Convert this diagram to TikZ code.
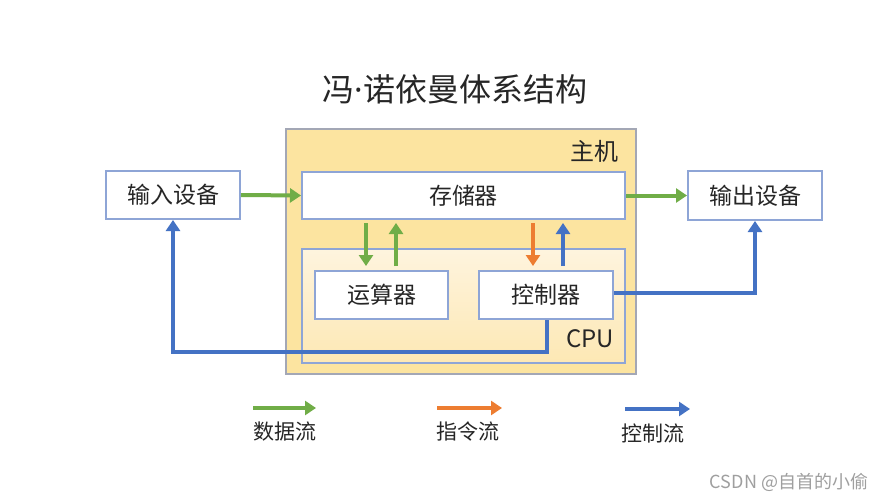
\documentclass[tikz,border=0pt]{standalone}
\usepackage{fontspec}
\setmainfont{Noto Sans CJK SC}
\newfontfamily\latinsans{Noto Sans}
\usepackage{xcolor}
\usetikzlibrary{positioning,arrows.meta,calc}

\definecolor{datagreen}{HTML}{70AD47}
\definecolor{instrorange}{HTML}{ED7D31}
\definecolor{ctrlblue}{HTML}{4472C4}
\definecolor{hostfill}{HTML}{FCE4A0}
\definecolor{cputop}{HTML}{FEF4DE}
\definecolor{cpubottom}{HTML}{FDE8B4}
\definecolor{unitline}{HTML}{8EA5D6}
\definecolor{frameline}{HTML}{A3A7B5}
\definecolor{inktext}{HTML}{262626}

\begin{document}
\begin{tikzpicture}[
    x=0.5pt, y=-0.5pt,
    unit/.style={rectangle, draw=unitline, line width=1pt, fill=white, minimum width=67pt, minimum height=24pt, font=\fontsize{11.5}{13}\selectfont, text=inktext, inner sep=0pt},
    frame/.style={rectangle, draw=frameline, line width=1pt, inner sep=0pt},
    lbl/.style={font=\fontsize{12}{14}\selectfont, text=inktext, inner sep=0pt},
    key/.style={font=\fontsize{10.5}{12}\selectfont, text=inktext, inner sep=0pt},
    data/.style={->, line width=2pt, >={Triangle[length=5.5pt,width=7pt]}, color=datagreen},
    instr/.style={->, line width=2pt, >={Triangle[length=5.5pt,width=7pt]}, color=instrorange},
    ctrl/.style={->, line width=2pt, >={Triangle[length=5.5pt,width=7pt]}, color=ctrlblue}
]
    \useasboundingbox[fill=white] (0,0) rectangle (891,503);

    % Title
    \node[font=\fontsize{16}{19}\selectfont, text=inktext] (title) at (455,89) {冯{\latinsans ·}诺依曼体系结构};

    % Host and CPU frames
    \node[frame, fill=hostfill, minimum width=175pt, minimum height=122.5pt] (host) at (461,251.5) {};
    \node[lbl] (hostlbl) at (594,151) {主机};
    \node[frame, draw=unitline, top color=cputop, bottom color=cpubottom, minimum width=161.5pt, minimum height=57pt] (cpu) at (463.5,306) {};
    \node[lbl] (cpulbl) at (590,339) {CPU};

    % Units
    \node[unit, minimum width=161.5pt, minimum height=23.5pt] (mem) at (463.5,195.5) {存储器};
    \node[unit, minimum width=66.5pt] (alu)  at (381.5,295) {运算器};
    \node[unit]                       (ctrlunit) at (546,295) {控制器};
    \node[unit]                       (input)  at (173,195) {输入设备};
    \node[unit, minimum height=24.5pt] (output) at (755,195.5) {输出设备};

    % Data flow
    \draw[data] (input.east) -- (mem.west);
    \draw[data] (mem.east) -- (output.west);
    \coordinate (aludn) at ([xshift=-7.75pt]alu.north);
    \coordinate (aluup) at ([xshift=7.25pt]alu.north);
    \draw[data, shorten <=1.5pt, shorten >=2pt] (mem.south -| aludn) -- (aludn);
    \draw[data, shorten <=2pt, shorten >=1.5pt] (aluup) -- (mem.south -| aluup);

    % Instruction and control flow
    \coordinate (ctrldn) at ([xshift=-6.5pt]ctrlunit.north);
    \coordinate (ctrlup) at ([xshift=8.5pt]ctrlunit.north);
    \draw[instr, shorten <=1.5pt, shorten >=2pt] (mem.south -| ctrldn) -- (ctrldn);
    \draw[ctrl, shorten <=2pt, shorten >=1.5pt] (ctrlup) -- (mem.south -| ctrlup);
    \draw[ctrl, line width=1.7pt] ([yshift=1pt]ctrlunit.east) -| (output.south);
    \draw[ctrl, line width=1.7pt] ([xshift=0.5pt]ctrlunit.south) -- ++(0,32) -| (input.south);

    % Legend
    \coordinate (keydataA) at (253,408);   \coordinate (keydataB) at (316,408);
    \coordinate (keyinstrA) at (437,408);  \coordinate (keyinstrB) at (502,408);
    \coordinate (keyctrlA) at (625,409);   \coordinate (keyctrlB) at (690,409);
    \draw[data]  (keydataA) -- (keydataB);
    \draw[instr] (keyinstrA) -- (keyinstrB);
    \draw[ctrl]  (keyctrlA) -- (keyctrlB);
    \node[key] (keydata)  at (285,432) {数据流};
    \node[key] (keyinstr) at (468,432) {指令流};
    \node[key] (keyctrl)  at (653,433) {控制流};

    % Watermark
    \node[font=\fontsize{9}{11}\selectfont, text=gray!75, inner sep=0pt] (mark) at (789,482) {CSDN @自首的小偷};
\end{tikzpicture}
\end{document}
